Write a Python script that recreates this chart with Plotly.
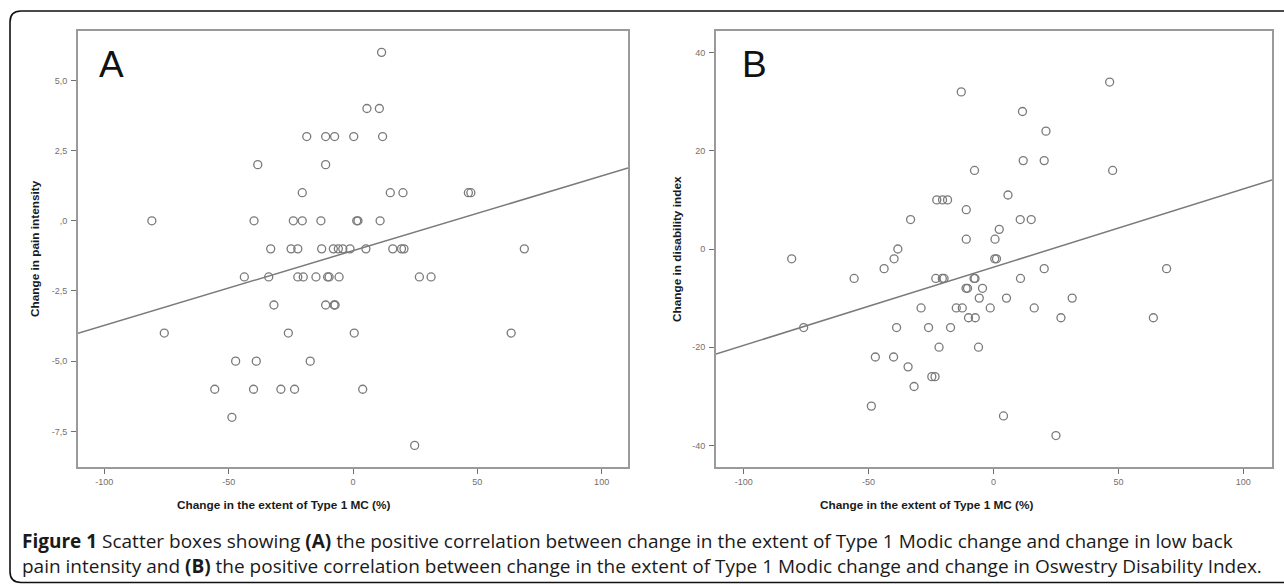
import plotly.graph_objects as go

W, H = 1284, 584

# ---------------- data ----------------
# Panel A: change in Type 1 MC extent (%) vs change in pain intensity
A_X = [11.5, 5.6, 10.6,
       -18.6, -11.0, -7.4, 0.3, 11.9,
       -38.3, -11.0,
       -20.4, 15.0, 20.1, 46.4, 47.4,
       -80.9, -39.8, -24.0, -20.4, -12.9, 1.5, 2.0, 10.9,
       -33.1, -24.9, -22.2, -12.6, -7.9, -5.9, -4.1, -1.2, 5.2, 16.0, 19.5, 20.5, 68.9,
       -43.7, -33.9, -22.2, -20.0, -14.9, -10.2, -9.6, -5.6, 26.7, 31.4,
       -31.8, -11.0, -7.6, -7.2,
       -75.9, -26.0, 0.5, 63.6,
       -47.2, -38.9, -17.2,
       -55.6, -40.0, -29.0, -23.5, 3.9,
       -48.7,
       24.8]
A_Y = [6, 4, 4,
       3, 3, 3, 3, 3,
       2, 2,
       1, 1, 1, 1, 1,
       0, 0, 0, 0, 0, 0, 0, 0,
       -1, -1, -1, -1, -1, -1, -1, -1, -1, -1, -1, -1, -1,
       -2, -2, -2, -2, -2, -2, -2, -2, -2, -2,
       -3, -3, -3, -3,
       -4, -4, -4, -4,
       -5, -5, -5,
       -6, -6, -6, -6, -6,
       -7,
       -8]

# Panel B: change in Type 1 MC extent (%) vs change in disability index
B_X = [-12.9, 46.5, 11.6, 21.0, 11.9, 20.3, -7.6, 47.7, 5.8, -22.7,
       -20.4, -18.4, -10.9, -33.2, 10.7, 15.1, 2.3, -10.9, 0.6, -38.3,
       -80.8, -39.8, 0.5, 1.2, -43.8, 20.3, 69.3, -55.8, -23.1, -20.5,
       -19.8, -7.8, -7.4, 10.8, -11.0, -10.4, -4.4, -5.7, 5.2, 31.5,
       -29.0, -14.9, -12.5, -1.3, 16.3, -10.0, -7.3, 27.0, 64.0, -76.0,
       -38.8, -26.0, -17.2, -21.8, -6.0, -47.3, -40.0, -34.2, -24.7, -23.4,
       -31.8, -48.9, 4.0, 25.0]
B_Y = [32, 34, 28, 24, 18, 18, 16, 16, 11, 10,
       10, 10, 8, 6, 6, 6, 4, 2, 2, 0,
       -2, -2, -2, -2, -4, -4, -4, -6, -6, -6,
       -6, -6, -6, -6, -8, -8, -8, -10, -10, -10,
       -12, -12, -12, -12, -12, -14, -14, -14, -14, -16,
       -16, -16, -16, -20, -20, -22, -22, -24, -26, -26,
       -28, -32, -34, -38]

# fitted regression lines (intercept, slope)
FIT_A = (-1.065, 0.0266)
FIT_B = (-3.70, 0.1593)

# axis ranges and tick labels
A_XRANGE = [-110.6, 110.6]
A_YRANGE = [-8.77, 6.76]
B_XRANGE = [-111.1, 111.5]
B_YRANGE = [-44.4, 44.4]
X_TICKS = [-100, -50, 0, 50, 100]
X_TICKTEXT = ["-100", "-50", "0", "50", "100"]
A_YTICKS = [-7.5, -5.0, -2.5, 0.0, 2.5, 5.0]
A_YTICKTEXT = ["-7,5", "-5,0", "-2,5", ",0", "2,5", "5,0"]
B_YTICKS = [-40, -20, 0, 20, 40]
B_YTICKTEXT = ["-40", "-20", "0", "20", "40"]

X_TITLE = "Change in the extent of Type 1 MC (%)"
A_YTITLE = "Change in pain intensity"
B_YTITLE = "Change in disability index"
CAPTION_1 = ("<b>Figure 1</b> Scatter boxes showing <b>(A)</b> the positive correlation between change in the "
             "extent of Type 1 Modic change and change in low back")
CAPTION_2 = ("pain intensity and <b>(B)</b> the positive correlation between change in the extent of Type 1 "
             "Modic change and change in Oswestry Disability Index.")

# ---------------- layout helpers ----------------
def px(x):
    return x / W

def py(y):
    return 1 - y / H

GRAY = "#7a7a7a"
FRAME = "#9a9a9a"
TICKC = "#707070"

fig = go.Figure()

marker = dict(symbol="circle-open", size=8, color=GRAY, line=dict(width=1.3, color=GRAY))

fig.add_trace(go.Scatter(x=A_X, y=A_Y, mode="markers", marker=marker, xaxis="x", yaxis="y",
                         showlegend=False, hoverinfo="x+y"))
fig.add_trace(go.Scatter(x=A_XRANGE, y=[FIT_A[0] + FIT_A[1] * v for v in A_XRANGE], mode="lines",
                         line=dict(color=GRAY, width=1.5), xaxis="x", yaxis="y", showlegend=False))
fig.add_trace(go.Scatter(x=B_X, y=B_Y, mode="markers", marker=marker, xaxis="x2", yaxis="y2",
                         showlegend=False, hoverinfo="x+y"))
fig.add_trace(go.Scatter(x=B_XRANGE, y=[FIT_B[0] + FIT_B[1] * v for v in B_XRANGE], mode="lines",
                         line=dict(color=GRAY, width=1.5), xaxis="x2", yaxis="y2", showlegend=False))

axis_common = dict(showline=True, mirror=True, linecolor=FRAME, linewidth=2, showgrid=False,
                   zeroline=False, ticks="outside", ticklen=5, tickwidth=1.2, tickcolor=TICKC,
                   tickfont=dict(family="Liberation Sans, Arial, sans-serif", size=9, color=TICKC),
                   fixedrange=True)

ydom = [py(467), py(31)]
fig.update_layout(
    width=W, height=H,
    margin=dict(l=0, r=0, t=0, b=0),
    paper_bgcolor="white", plot_bgcolor="white",
    xaxis=dict(domain=[px(78), px(628)], range=A_XRANGE, tickvals=X_TICKS, ticktext=X_TICKTEXT,
               anchor="y", **axis_common),
    yaxis=dict(domain=ydom, range=A_YRANGE, tickvals=A_YTICKS, ticktext=A_YTICKTEXT,
               anchor="x", ticklabelstandoff=2, **axis_common),
    xaxis2=dict(domain=[px(716), px(1272)], range=B_XRANGE, tickvals=X_TICKS, ticktext=X_TICKTEXT,
                anchor="y2", **axis_common),
    yaxis2=dict(domain=ydom, range=B_YRANGE, tickvals=B_YTICKS, ticktext=B_YTICKTEXT,
                anchor="x2", ticklabelstandoff=2, **axis_common),
)

ann = []
title_font = dict(family="Liberation Sans, Arial, sans-serif", size=11.8, color="#1a1a1a")
ann.append(dict(text="<b>%s</b>" % X_TITLE, x=px(284), y=py(505), xref="paper", yref="paper",
                showarrow=False, font=title_font, xanchor="center", yanchor="middle"))
ann.append(dict(text="<b>%s</b>" % X_TITLE, x=px(927), y=py(505), xref="paper", yref="paper",
                showarrow=False, font=title_font, xanchor="center", yanchor="middle"))
ann.append(dict(text="<b>%s</b>" % A_YTITLE, x=px(35), y=py(249), xref="paper", yref="paper",
                showarrow=False, font=title_font, textangle=-90, xanchor="center", yanchor="middle"))
ann.append(dict(text="<b>%s</b>" % B_YTITLE, x=px(677), y=py(249), xref="paper", yref="paper",
                showarrow=False, font=title_font, textangle=-90, xanchor="center", yanchor="middle"))
letter_font = dict(family="Liberation Sans, Arial, sans-serif", size=37, color="#111111")
ann.append(dict(text="A", x=px(111.5), y=py(64), xref="paper", yref="paper", showarrow=False,
                font=letter_font, xanchor="center", yanchor="middle"))
ann.append(dict(text="B", x=px(754), y=py(64), xref="paper", yref="paper", showarrow=False,
                font=letter_font, xanchor="center", yanchor="middle"))
cap_font = dict(family="Open Sans, Noto Sans, sans-serif", size=19, color="#1a1a1a")
ann.append(dict(text=CAPTION_1 + "<br>" + CAPTION_2, x=px(20), y=py(553), xref="paper", yref="paper",
                showarrow=False, font=cap_font, xanchor="left", yanchor="middle", align="left"))
fig.update_layout(annotations=ann)

# outer rounded border (open on the right)
r = 11
path = (f"M {px(1284)},{py(11)} L {px(10 + r)},{py(11)} Q {px(10)},{py(11)} {px(10)},{py(11 + r)} "
        f"L {px(10)},{py(582.5 - r)} Q {px(10)},{py(582.5)} {px(10 + r)},{py(582.5)} L {px(1284)},{py(582.5)}")
fig.add_shape(type="path", path=path, xref="paper", yref="paper",
              line=dict(color="#111111", width=1.6))

fig.write_html("out.html", config={"displayModeBar": False},
               post_script="document.body.style.margin='0';document.body.style.overflow='hidden';")
